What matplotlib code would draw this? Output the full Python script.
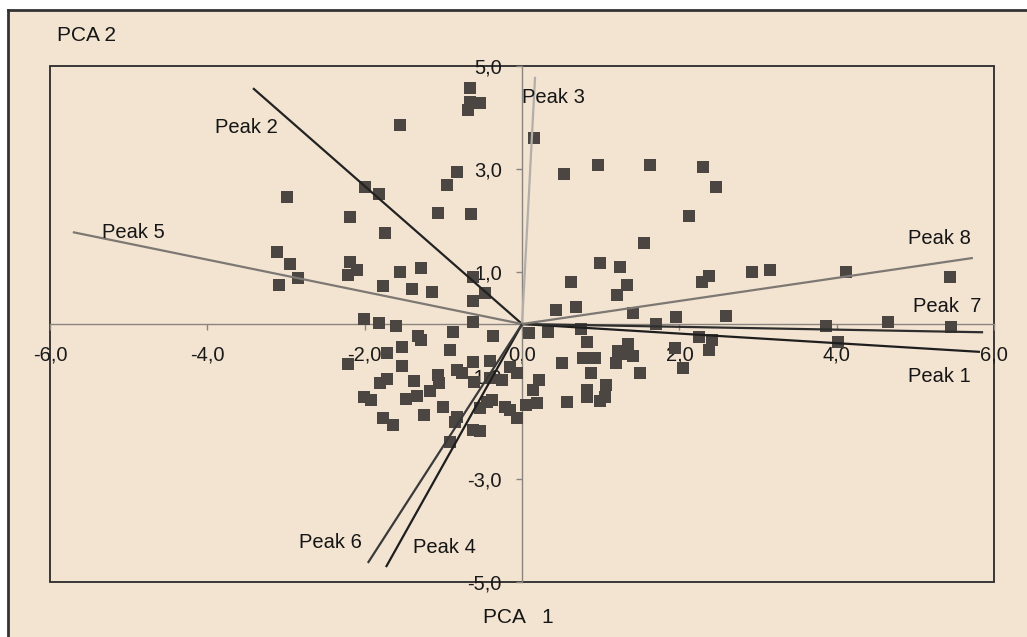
import matplotlib.pyplot as plt
from matplotlib.patches import Rectangle
from matplotlib.lines import Line2D
from matplotlib.ticker import FuncFormatter

plt.rcParams['font.family'] = ['Liberation Sans', 'DejaVu Sans']

# scores (PCA 1, PCA 2)
pca1 = [-1.55, -2.99, -2.00, -1.82, -2.19, -1.74, -3.11, -2.95, -2.85, -3.09,
        -2.19, -2.10, -2.21, -1.77, -1.55, -0.66, -0.66, -0.53, -0.69, -0.83,
        -0.95, -1.07, -0.65, -1.28, -1.40, -1.14, -0.62, -0.47, -0.62, -0.62,
        -2.01, -1.82, -1.60,
        0.15, 0.53, 0.97, 1.63, 2.30, 2.47, 2.12, 1.55, 0.99, 1.25,
        0.62, 1.33, 1.21, 0.43, 0.69, 1.41, 1.96, 1.70, 2.29, 2.38,
        2.59, 2.92, 3.15, 4.12, 5.44, 3.86, 4.65, 5.45, 4.02,
        0.09, 0.33, 0.75, 0.83, 2.25, 2.42, 2.38, 1.94, 2.05, 0.51,
        0.78, 0.93, 0.88, 1.22, 1.35, 1.41, 1.19, 1.30, 1.50, 0.22,
        0.14, 0.19, 0.05, 0.57, 0.83, 1.07, 0.83, 1.06, 0.99, -0.07,
        -1.32, -1.28, -0.88, -0.37, -1.53, -1.72, -2.21, -1.53, -0.92, -1.72,
        -1.80, -1.37, -1.07, -1.06, -1.17, -0.83, -0.76, -0.62, -0.41, -0.61,
        -0.41, -0.25, -2.01, -1.92, -1.47, -1.33, -1.00, -1.25, -1.77, -1.64,
        -0.83, -0.85, -0.44, -0.53, -0.22, -0.15, -0.62, -0.53, -0.92, -0.06,
        -0.15, -0.38]
pca2 = [3.86, 2.46, 2.66, 2.52, 2.07, 1.76, 1.40, 1.16, 0.89, 0.76,
        1.20, 1.05, 0.95, 0.74, 1.01, 4.57, 4.30, 4.28, 4.15, 2.95,
        2.69, 2.15, 2.13, 1.09, 0.68, 0.62, 0.91, 0.60, 0.45, 0.04,
        0.10, 0.02, -0.04,
        3.60, 2.91, 3.08, 3.08, 3.04, 2.66, 2.09, 1.57, 1.18, 1.10,
        0.81, 0.76, 0.56, 0.27, 0.33, 0.21, 0.14, 0.00, 0.81, 0.93,
        0.16, 1.01, 1.05, 1.01, 0.91, -0.04, 0.04, -0.06, -0.35,
        -0.17, -0.16, -0.10, -0.35, -0.25, -0.31, -0.50, -0.47, -0.85, -0.76,
        -0.66, -0.66, -0.95, -0.52, -0.39, -0.62, -0.76, -0.58, -0.95, -1.09,
        -1.28, -1.53, -1.57, -1.51, -1.28, -1.18, -1.41, -1.41, -1.49, -1.82,
        -0.23, -0.31, -0.16, -0.23, -0.45, -0.56, -0.78, -0.81, -0.50, -1.07,
        -1.14, -1.10, -0.99, -1.14, -1.30, -0.89, -0.95, -0.74, -0.72, -1.12,
        -1.05, -1.09, -1.41, -1.47, -1.45, -1.40, -1.61, -1.76, -1.82, -1.96,
        -1.80, -1.90, -1.51, -1.63, -1.61, -1.67, -2.05, -2.07, -2.29, -0.95,
        -0.83, -1.47]

# loadings (vector tips)
peaks = ['Peak 1', 'Peak 2', 'Peak 3', 'Peak 4', 'Peak 5', 'Peak 6', 'Peak  7', 'Peak 8']
load1 = [5.82, -3.42, 0.165, -1.73, -5.71, -1.96, 5.86, 5.73]
load2 = [-0.54, 4.57, 4.79, -4.71, 1.78, -4.63, -0.16, 1.28]

x_ticks = [-6, -4, -2, 0, 2, 4, 6]
y_ticks = [-5, -3, -1, 1, 3, 5]

# styling for each vector + where its label sits
line_cols = ['#1e1e1e', '#222222', '#b3aea8', '#1e1e1e', '#7d7873', '#3a3a3a', '#2e2e2e', '#7d7873']
label_pos = [(5.31, -1.01, 'center'), (-3.51, 3.80, 'center'), (0.0, 4.38, 'left'),
             (-0.99, -4.34, 'center'), (-4.94, 1.78, 'center'), (-2.44, -4.24, 'center'),
             (5.40, 0.33, 'center'), (5.31, 1.65, 'center')]

bg = '#F3E4D2'
fig = plt.figure(figsize=(10.27, 6.37), dpi=100, facecolor='white')
fig.patches.append(Rectangle((0.0078, 0), 1, 0.9843, transform=fig.transFigure,
                             facecolor=bg, edgecolor='none', zorder=-10))
fig.lines.append(Line2D([0.0078, 0.0078], [0, 0.9843], transform=fig.transFigure, color='#333333', lw=2))
fig.lines.append(Line2D([0.0078, 1], [0.9843, 0.9843], transform=fig.transFigure, color='#333333', lw=2))

ax = fig.add_axes([0.0487, 0.0863, 0.9193, 0.8101])
ax.set_facecolor(bg)
ax.patch.set_alpha(0)
ax.set_xlim(-6, 6)
ax.set_ylim(-5, 5)

for s in ['top', 'right']:
    ax.spines[s].set_visible(False)
ax.spines['bottom'].set_position('zero')
ax.spines['left'].set_position('zero')
for s in ['bottom', 'left']:
    ax.spines[s].set_color('#8a847e')
    ax.spines[s].set_linewidth(1.0)
ax.add_patch(Rectangle((0, 0), 1, 1, transform=ax.transAxes, fill=False,
                       edgecolor='#2a2a2a', lw=1.3, clip_on=False, zorder=1))

fmt = FuncFormatter(lambda v, p: f"{v:.1f}".replace('.', ','))
ax.set_xticks(x_ticks)
ax.set_yticks(y_ticks)
ax.xaxis.set_major_formatter(fmt)
ax.yaxis.set_major_formatter(fmt)
ax.tick_params(axis='x', direction='out', length=4.5, width=1, color='#8a847e', pad=11,
               labelsize=14.5, labelcolor='#1a1a1a')
ax.tick_params(axis='y', direction='out', length=4.5, width=1, color='#8a847e', pad=10,
               labelsize=14.5, labelcolor='#1a1a1a')

ax.scatter(pca1, pca2, marker='s', s=74, color='#4b4641', linewidths=0, zorder=3)

for i, name in enumerate(peaks):
    ax.plot([0, load1[i]], [0, load2[i]], color=line_cols[i], lw=1.6, zorder=4,
            solid_capstyle='butt')
    lx, ly, ha = label_pos[i]
    ax.text(lx, ly, name, fontsize=14.5, ha=ha, va='center', color='#151515', zorder=5)

fig.text(0.0555, 0.945, 'PCA 2', fontsize=15, ha='left', va='center', color='#151515')
fig.text(0.470, 0.030, 'PCA   1', fontsize=15, ha='left', va='center', color='#151515')

plt.savefig('out.png', dpi=100, facecolor=fig.get_facecolor())
